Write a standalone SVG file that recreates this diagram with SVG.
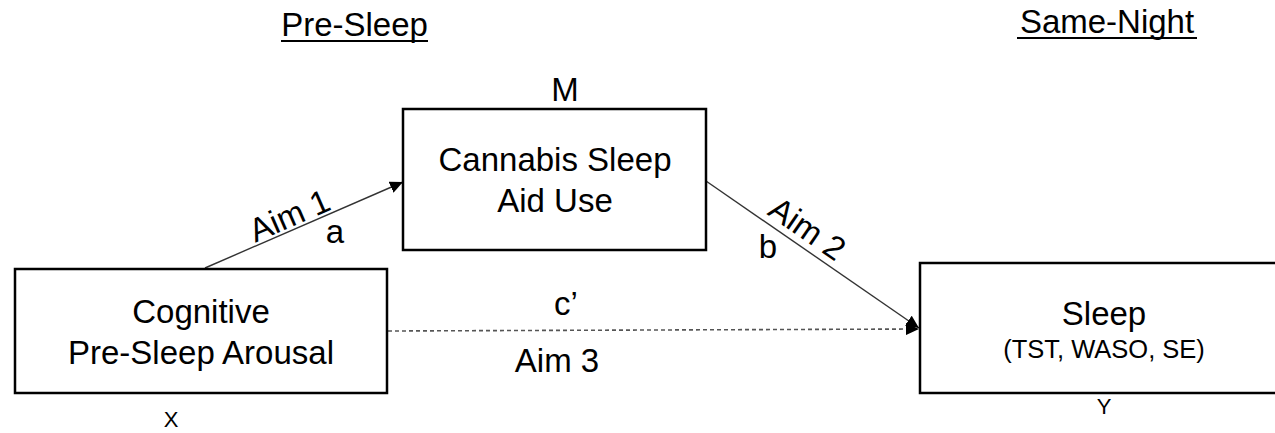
<svg xmlns="http://www.w3.org/2000/svg" width="1275" height="433" viewBox="0 0 1275 433">
  <style>
    text { font-family: "Liberation Sans", Arial, sans-serif; fill: #000; }
    .big { font-size: 33px; text-anchor: middle; }
    .mid { font-size: 33px; text-anchor: middle; }
    .sub { font-size: 25.5px; text-anchor: middle; }
    .lab { font-size: 22px; text-anchor: middle; }
    .box { fill: #fff; stroke: #000; stroke-width: 2.5; }
    .conn { fill: none; stroke: #333; stroke-width: 1.4; }
    .dash { fill: none; stroke: #555; stroke-width: 1.6; stroke-dasharray: 4 3; }
    .ul { stroke: #000; stroke-width: 2; }
  </style>
  <defs>
    <marker id="arrow" markerUnits="userSpaceOnUse" markerWidth="14" markerHeight="12" refX="13" refY="6" orient="auto">
      <path d="M0,0 L13,6 L0,12 Z" fill="#000"/>
    </marker>
  </defs>

  <g id="headers">
    <text class="big" x="354.5" y="36">Pre-Sleep</text>
    <line class="ul" x1="281" y1="41" x2="428" y2="41"/>
    <text class="big" x="1107" y="33">Same-Night</text>
    <line class="ul" x1="1017" y1="38" x2="1197" y2="38"/>
  </g>

  <g id="connectors">
    <line class="conn" x1="205" y1="268" x2="403" y2="182" marker-end="url(#arrow)"/>
    <line class="conn" x1="706" y1="181" x2="919" y2="328" marker-end="url(#arrow)"/>
    <line class="dash" x1="388" y1="331" x2="919" y2="329" marker-end="url(#arrow)"/>
    <text class="mid" transform="translate(294,226) rotate(-23.5)">Aim 1</text>
    <text class="mid" x="335" y="243">a</text>
    <text class="mid" transform="translate(801,238) rotate(34.7)">Aim 2</text>
    <text class="mid" x="768" y="258">b</text>
    <text class="mid" x="566" y="315">c’</text>
    <text class="big" x="557" y="372">Aim 3</text>
  </g>

  <g id="node-x">
    <rect class="box" x="15" y="269" width="372" height="124"/>
    <text class="big" x="201" y="323">Cognitive</text>
    <text class="big" x="201" y="364">Pre-Sleep Arousal</text>
    <text class="lab" x="171" y="427">X</text>
  </g>

  <g id="node-m">
    <rect class="box" x="403" y="109" width="303" height="141"/>
    <text class="big" x="565" y="101">M</text>
    <text class="big" x="555" y="171">Cannabis Sleep</text>
    <text class="big" x="555" y="212">Aid Use</text>
  </g>

  <g id="node-y">
    <rect class="box" x="920" y="263" width="370" height="130"/>
    <text class="big" x="1104" y="325">Sleep</text>
    <text class="sub" x="1104" y="358">(TST, WASO, SE)</text>
    <text class="lab" x="1104" y="414">Y</text>
  </g>
</svg>
